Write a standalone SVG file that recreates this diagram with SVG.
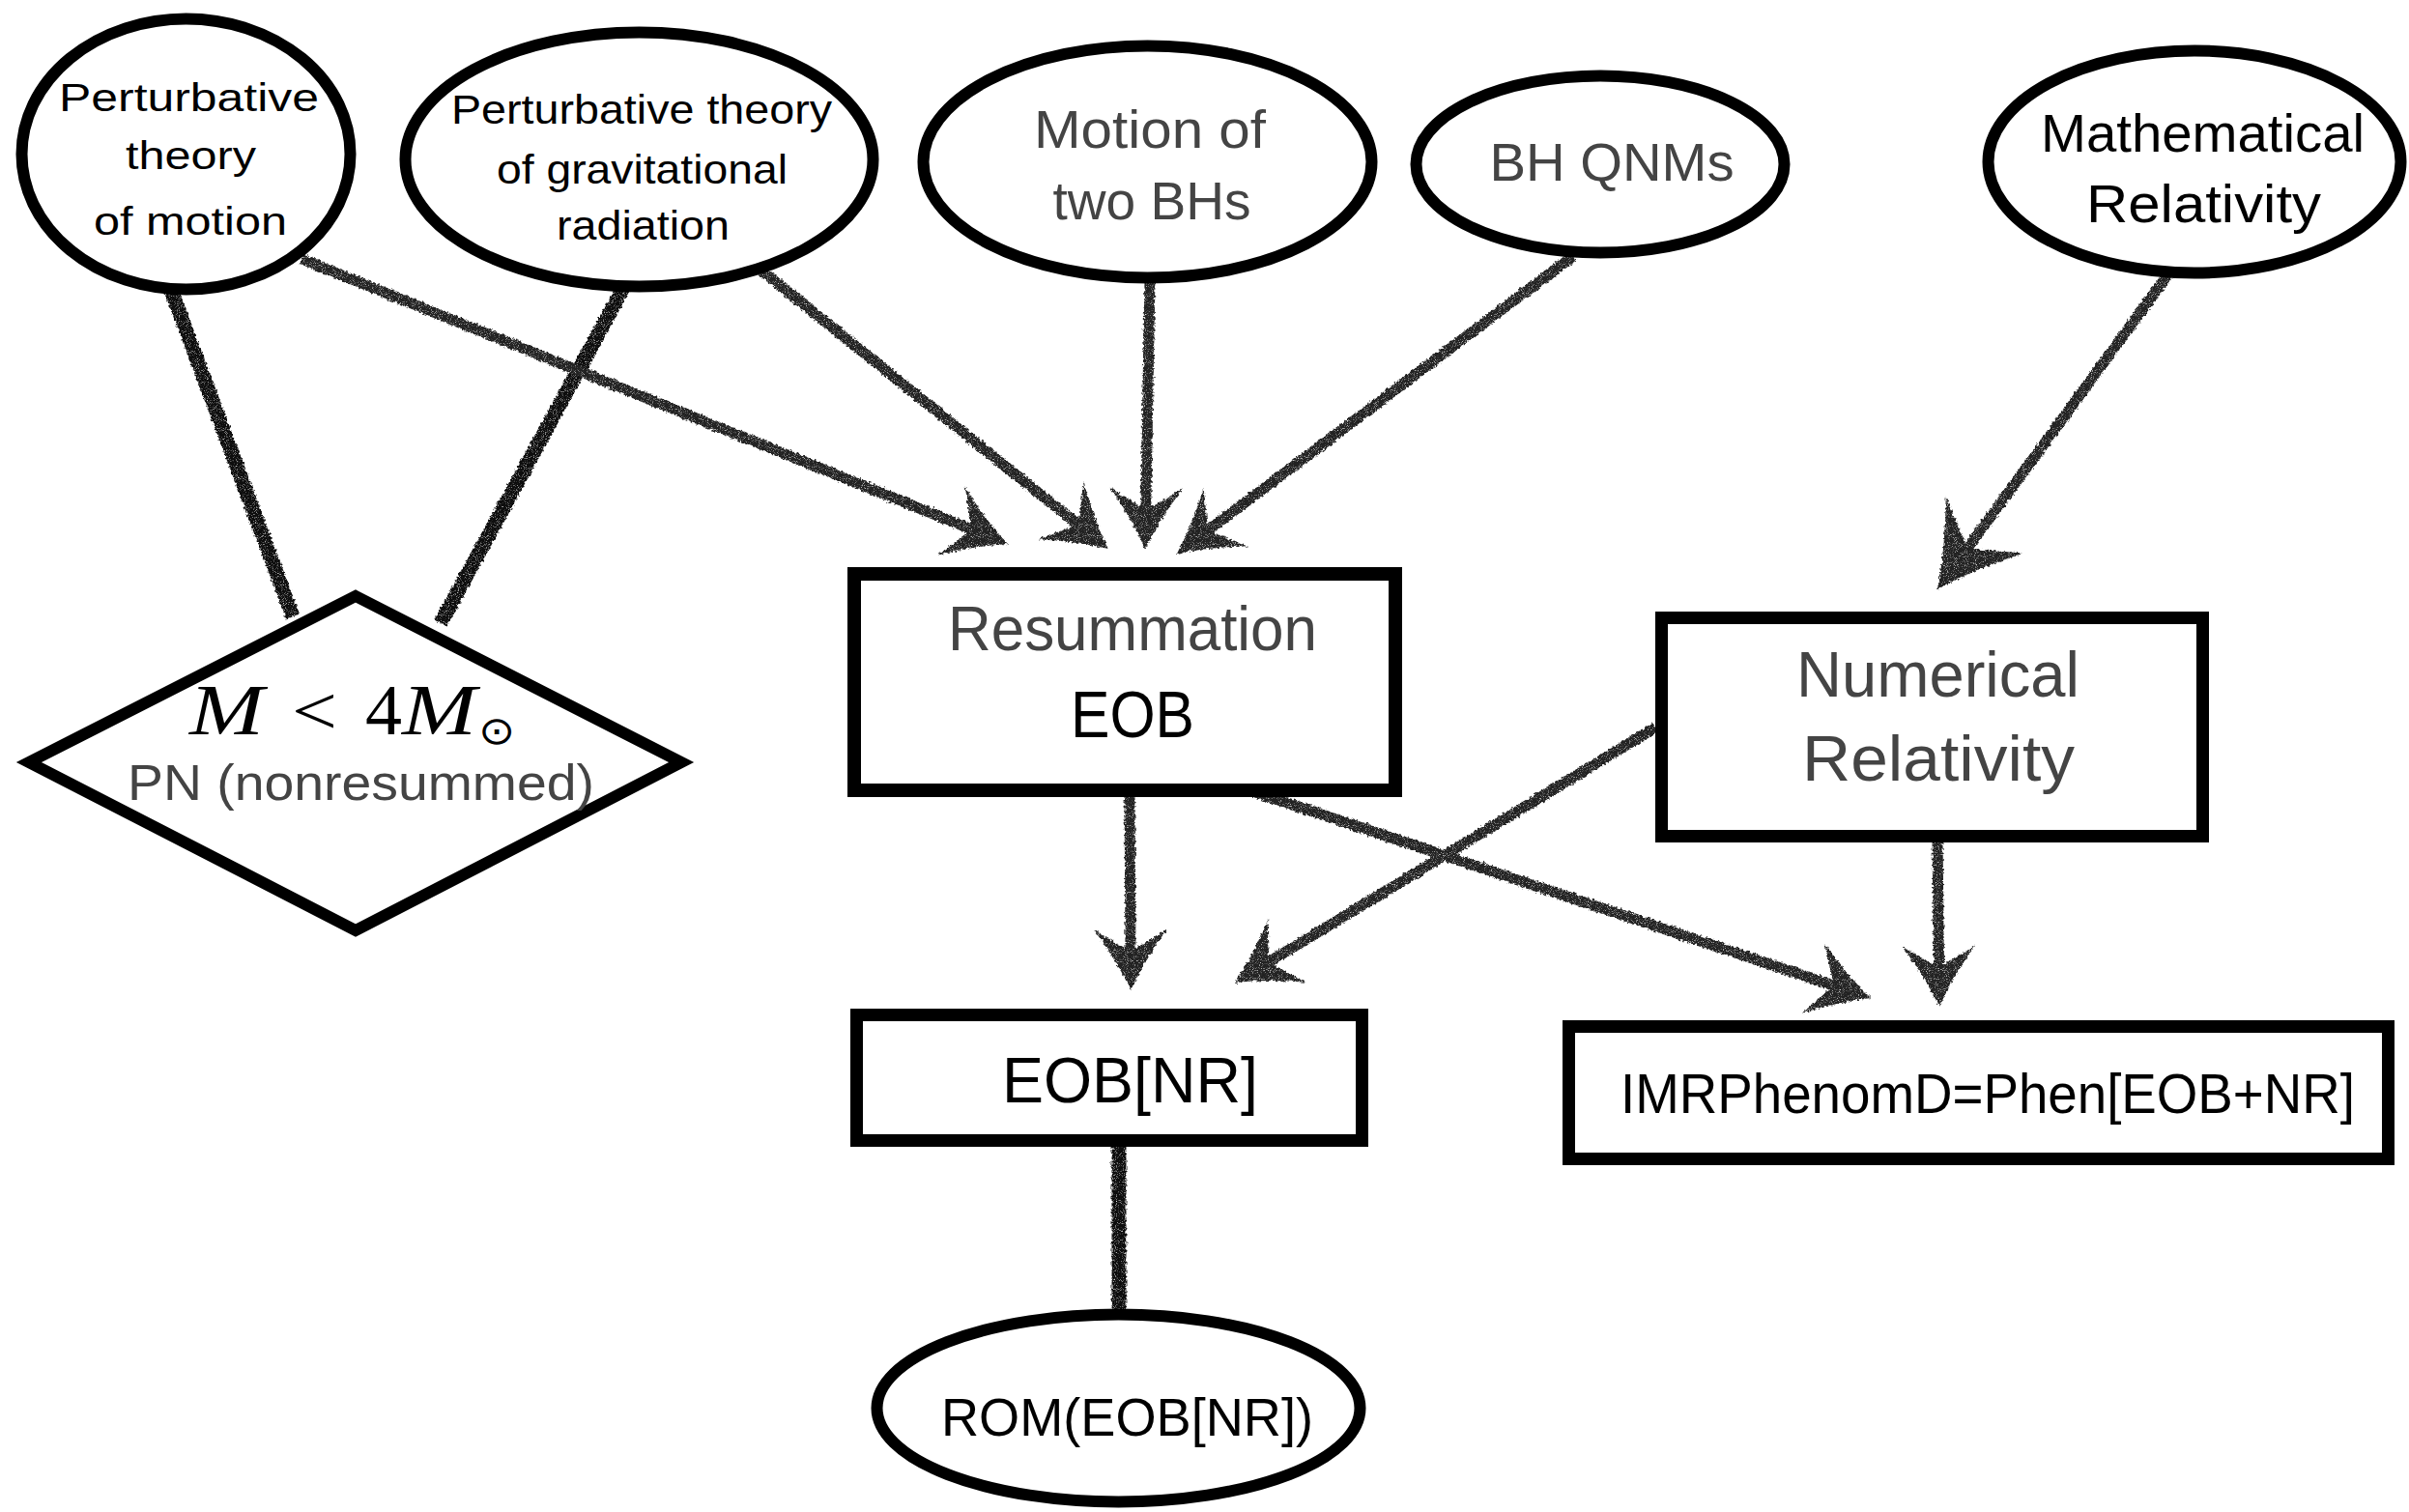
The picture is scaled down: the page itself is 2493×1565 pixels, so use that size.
<svg xmlns="http://www.w3.org/2000/svg" width="2493" height="1565" viewBox="0 0 2493 1565">
<style>
.shape{fill:#fff;stroke:#000;stroke-width:12}
.box{fill:#fff;stroke:#000;stroke-width:13}
.t{font-family:"Liberation Sans",Arial,sans-serif;text-anchor:middle}
.k{fill:#000}
.g{fill:#444}
.arr{stroke:#222;stroke-width:11;fill:none;marker-end:url(#ah)}
.big{marker-end:url(#ahBig)}
.link{stroke:#111;stroke-width:15;fill:none}
.m{font-family:"Liberation Serif","Times New Roman",serif;fill:#000}
</style>
<defs>
<marker id="ah" markerUnits="userSpaceOnUse" viewBox="-70 -45 80 90" refX="-42" refY="0" markerWidth="80" markerHeight="90" orient="auto" overflow="visible">
<path d="M0,0 Q-32,-15 -63,-38 Q-52,-20 -44,-6 L-44,6 Q-52,20 -63,38 Q-32,15 0,0 Z" fill="#222"/>
</marker>
<marker id="ahBig" markerUnits="userSpaceOnUse" viewBox="-95 -60 105 120" refX="-56" refY="0" markerWidth="105" markerHeight="120" orient="auto" overflow="visible">
<path d="M0,0 Q-42,-20 -83,-50 Q-68,-26 -57,-7 L-57,7 Q-68,26 -83,50 Q-42,20 0,0 Z" fill="#222"/>
</marker>
<filter id="chalk" x="0" y="0" width="2493" height="1565" filterUnits="userSpaceOnUse">
<feTurbulence type="fractalNoise" baseFrequency="0.35" numOctaves="2" seed="7" result="n"/>
<feDisplacementMap in="SourceGraphic" in2="n" scale="5" xChannelSelector="R" yChannelSelector="G" result="d"/>
<feTurbulence type="fractalNoise" baseFrequency="1.1" numOctaves="1" seed="2" result="n2"/>
<feColorMatrix in="n2" type="matrix" values="0 0 0 0 0  0 0 0 0 0  0 0 0 0 0  -3 0 0 0 2.6" result="msk"/>
<feComposite in="d" in2="msk" operator="in"/>
</filter>
</defs>
<rect width="2493" height="1565" fill="#fff"/>

<g id="connectors" filter="url(#chalk)">
<line class="link" x1="177" y1="300" x2="303" y2="638"/>
<line class="link" x1="645" y1="298" x2="456" y2="645"/>
<line class="link" x1="1158" y1="1180" x2="1158" y2="1360"/>
<line class="arr" x1="312" y1="268" x2="1004" y2="547.3"/>
<line class="arr" x1="788" y1="280" x2="1114.2" y2="541.7"/>
<line class="arr" x1="1190" y1="290" x2="1185.8" y2="526"/>
<line class="arr" x1="1628" y1="265" x2="1251.6" y2="547.8"/>
<line class="arr big" x1="2243" y1="285" x2="2038.1" y2="564.8"/>
<line class="arr" x1="1169" y1="822" x2="1170" y2="983"/>
<line class="arr" x1="1713" y1="753" x2="1313.9" y2="995.2"/>
<line class="arr" x1="1293" y1="818" x2="1896.2" y2="1019.7"/>
<line class="arr" x1="2005" y1="868" x2="2006.5" y2="1000"/>
</g>

<g id="node-pert-motion">
<ellipse class="shape" cx="192.5" cy="159.5" rx="170" ry="140"/>
<text class="t k" font-size="40" x="195.5" y="115" textLength="269" lengthAdjust="spacingAndGlyphs">Perturbative</text>
<text class="t k" font-size="40" x="197.5" y="175" textLength="135" lengthAdjust="spacingAndGlyphs">theory</text>
<text class="t k" font-size="40" x="197" y="243" textLength="200" lengthAdjust="spacingAndGlyphs">of motion</text>
</g>

<g id="node-pert-radiation">
<ellipse class="shape" cx="661.5" cy="165" rx="242" ry="131.5"/>
<text class="t k" font-size="42" x="664" y="128" textLength="394" lengthAdjust="spacingAndGlyphs">Perturbative theory</text>
<text class="t k" font-size="42" x="664.5" y="190" textLength="301" lengthAdjust="spacingAndGlyphs">of gravitational</text>
<text class="t k" font-size="42" x="665.5" y="248" textLength="179" lengthAdjust="spacingAndGlyphs">radiation</text>
</g>

<g id="node-motion-bhs">
<ellipse class="shape" cx="1187.5" cy="167.5" rx="232" ry="120"/>
<text class="t g" font-size="55" x="1190" y="153" textLength="240" lengthAdjust="spacingAndGlyphs">Motion of</text>
<text class="t g" font-size="55" x="1192" y="227" textLength="205" lengthAdjust="spacingAndGlyphs">two BHs</text>
</g>

<g id="node-bh-qnms">
<ellipse class="shape" cx="1656" cy="170" rx="190.5" ry="91.5"/>
<text class="t g" font-size="55" x="1668" y="187" textLength="253" lengthAdjust="spacingAndGlyphs">BH QNMs</text>
</g>

<g id="node-math-rel">
<ellipse class="shape" cx="2271" cy="167.5" rx="213.5" ry="115"/>
<text class="t k" font-size="55" x="2279.5" y="157" textLength="335" lengthAdjust="spacingAndGlyphs">Mathematical</text>
<text class="t k" font-size="55" x="2280.5" y="230" textLength="243" lengthAdjust="spacingAndGlyphs">Relativity</text>
</g>

<g id="node-pn">
<polygon class="shape" points="368,617 705,789 368,963 30,789"/>
<text class="m" font-size="75" font-style="italic" x="196" y="760" textLength="77" lengthAdjust="spacingAndGlyphs">M</text>
<text class="m" font-size="72" x="302" y="760" textLength="47" lengthAdjust="spacingAndGlyphs">&lt;</text>
<text class="m" font-size="75" x="378" y="760" textLength="38" lengthAdjust="spacingAndGlyphs">4</text>
<text class="m" font-size="75" font-style="italic" x="416" y="760" textLength="77" lengthAdjust="spacingAndGlyphs">M</text>
<text font-family="DejaVu Sans,sans-serif" font-size="40" fill="#000" x="495" y="770" textLength="38" lengthAdjust="spacingAndGlyphs">⊙</text>
<text class="t g" font-size="52" x="373.5" y="828" textLength="483" lengthAdjust="spacingAndGlyphs">PN (nonresummed)</text>
</g>

<g id="node-resummation">
<rect class="box" x="884" y="594" width="560" height="224" style="stroke-width:14"/>
<text class="t g" font-size="65" x="1172" y="673" textLength="382" lengthAdjust="spacingAndGlyphs">Resummation</text>
<text class="t k" font-size="68" x="1172" y="763" textLength="128" lengthAdjust="spacingAndGlyphs">EOB</text>
</g>

<g id="node-nr">
<rect class="box" x="1719.5" y="639.5" width="560" height="226"/>
<text class="t g" font-size="66" x="2005.5" y="721" textLength="293" lengthAdjust="spacingAndGlyphs">Numerical</text>
<text class="t g" font-size="66" x="2006" y="808" textLength="282" lengthAdjust="spacingAndGlyphs">Relativity</text>
</g>

<g id="node-eobnr">
<rect class="box" x="886.5" y="1050.5" width="523" height="130"/>
<text class="t k" font-size="66" x="1169.5" y="1141" textLength="265" lengthAdjust="spacingAndGlyphs">EOB[NR]</text>
</g>

<g id="node-imr">
<rect class="box" x="1623.5" y="1062.5" width="848" height="137"/>
<text class="t k" font-size="58" x="2057" y="1152" textLength="760" lengthAdjust="spacingAndGlyphs">IMRPhenomD=Phen[EOB+NR]</text>
</g>

<g id="node-rom">
<ellipse class="shape" cx="1157.5" cy="1457.5" rx="250" ry="97"/>
<text class="t k" font-size="56" x="1166.5" y="1486" textLength="385" lengthAdjust="spacingAndGlyphs">ROM(EOB[NR])</text>
</g>
</svg>
